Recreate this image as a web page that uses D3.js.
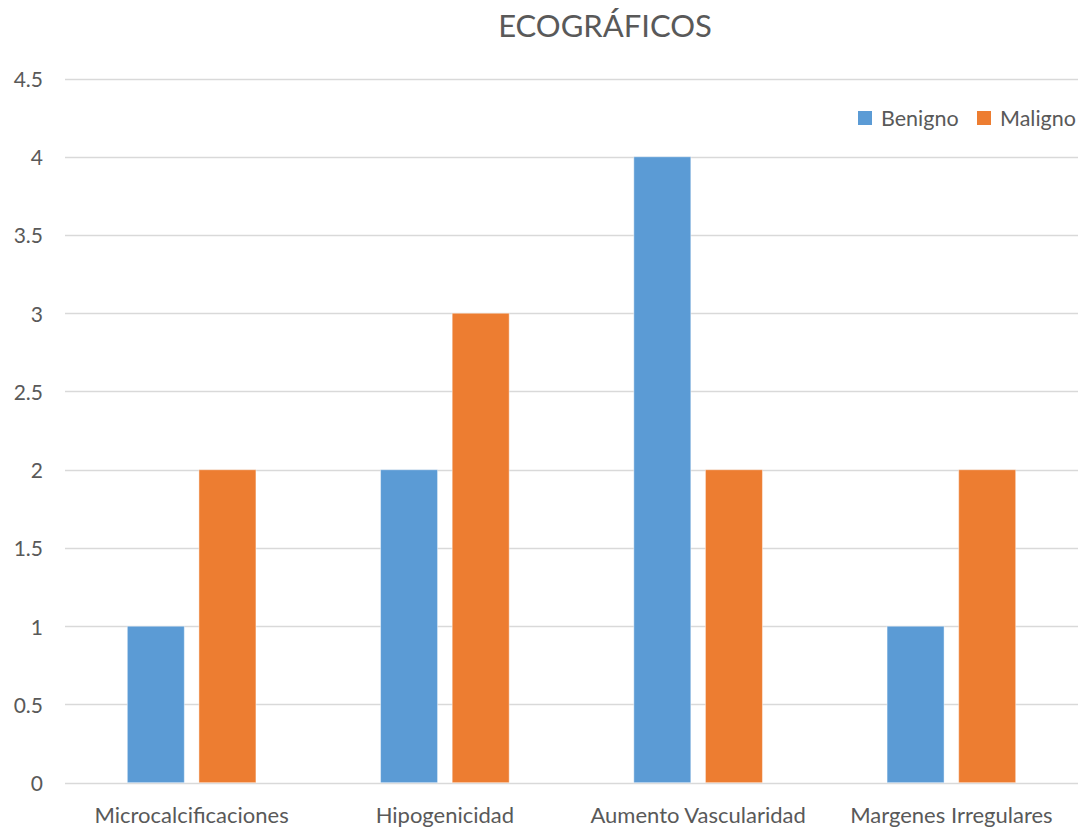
<!DOCTYPE html>
<html>
<head>
<meta charset="utf-8">
<script src="https://cdn.jsdelivr.net/npm/d3@7"></script>
<style>
  html, body { margin: 0; padding: 0; background: #fff; }
  svg { display: block; }
  text { font-family: Lato, "Open Sans", sans-serif; fill: #595959; }
</style>
</head>
<body>
<svg id="chart" width="1082" height="829"></svg>
<script>
// Chart data
const categories = ["Microcalcificaciones", "Hipogenicidad", "Aumento Vascularidad", "Margenes Irregulares"];
const seriesNames = ["Benigno", "Maligno"];
const benigno = [1, 2, 4, 1];
const maligno = [2, 3, 2, 2];
const yTicks = [0, 0.5, 1, 1.5, 2, 2.5, 3, 3.5, 4, 4.5];
const chartTitle = "ECOGRÁFICOS";

const colors = { Benigno: "#5B9BD5", Maligno: "#ED7D31" };
const seriesValues = { Benigno: benigno, Maligno: maligno };

const svg = d3.select("#chart");
const plot = { left: 65, right: 1078, top: 78.5, bottom: 782.7 };

const x0 = d3.scaleBand().domain(categories).range([plot.left, plot.right]).paddingInner(0).paddingOuter(0);
const x1 = d3.scaleBand().domain(seriesNames).range([0, x0.bandwidth()]).paddingInner(0.204).paddingOuter(0.87);
const y = d3.scaleLinear().domain([0, 4.5]).range([plot.bottom, plot.top]);

// Title
svg.append("text")
  .attr("x", 605).attr("y", 37)
  .attr("text-anchor", "middle")
  .style("font-size", "31px")
  .text(chartTitle);

// Horizontal gridlines
svg.append("g").selectAll("line")
  .data(yTicks)
  .join("line")
  .attr("x1", plot.left).attr("x2", plot.right)
  .attr("y1", d => Math.round(y(d)) + 0.5).attr("y2", d => Math.round(y(d)) + 0.5)
  .attr("stroke", "#D9D9D9").attr("stroke-width", 1.3);

// Y axis labels
const yAxis = d3.axisLeft(y).tickValues(yTicks).tickSize(0).tickPadding(0)
  .tickFormat(d => String(d));
const yg = svg.append("g").attr("transform", `translate(${plot.left - 22},0)`).call(yAxis);
yg.select(".domain").remove();
yg.selectAll("text").style("font-size", "21px").attr("fill", "#595959")
  .style("font-family", "Lato, 'Open Sans', sans-serif").attr("dy", "0.38em");

// Bars
const groups = svg.append("g").selectAll("g")
  .data(categories)
  .join("g")
  .attr("transform", d => `translate(${x0(d)},0)`);

groups.selectAll("rect")
  .data((d, i) => seriesNames.map(s => ({ s, v: seriesValues[s][i] })))
  .join("rect")
  .attr("x", d => x1(d.s))
  .attr("width", x1.bandwidth())
  .attr("y", d => y(d.v))
  .attr("height", d => y(0) - y(d.v))
  .attr("fill", d => colors[d.s])
  .attr("stroke", "#ffffff").attr("stroke-opacity", 0.45).attr("stroke-width", 1);

// Category labels
const xAxis = d3.axisBottom(x0).tickSize(0).tickPadding(0);
const xg = svg.append("g").attr("transform", `translate(0,${plot.bottom})`).call(xAxis);
xg.select(".domain").remove();
xg.selectAll("text").style("font-size", "22px").attr("fill", "#595959")
  .style("font-family", "Lato, 'Open Sans', sans-serif").attr("y", 40).attr("dy", null);

// Legend
const legendPos = { Benigno: 858, Maligno: 977 };
const legend = svg.append("g").selectAll("g")
  .data(seriesNames)
  .join("g")
  .attr("transform", d => `translate(${legendPos[d]},111)`);
legend.append("rect").attr("width", 14).attr("height", 14).attr("fill", d => colors[d]);
legend.append("text").attr("x", 23).attr("y", 14.5).style("font-size", "21.5px").text(d => d);
</script>
</body>
</html>
